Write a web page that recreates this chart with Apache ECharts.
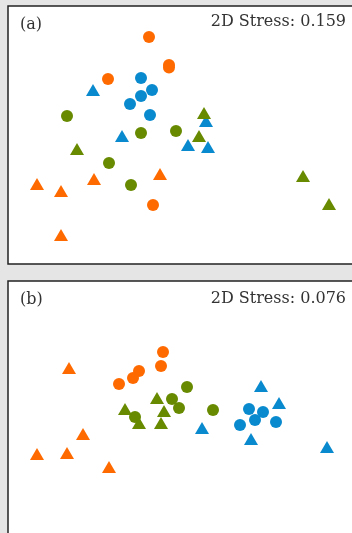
<!DOCTYPE html>
<html>
<head>
<meta charset="utf-8">
<style>
html,body{margin:0;padding:0;background:#e5e5e5;}
#chart{width:352px;height:533px;}
</style>
<script src="https://cdn.jsdelivr.net/npm/echarts@6/dist/echarts.min.js"></script>
</head>
<body>
<div id="chart"></div>
<script>
// Panel (a) NMDS coordinates [x, y]
const aOrangeCircle = [[-0.31,0.98],[-0.11,0.70],[-0.11,0.675],[-0.72,0.56],[-0.27,-0.70]];
const aOrangeTri    = [[-1.43,-0.49],[-1.19,-0.56],[-0.86,-0.44],[-0.20,-0.39],[-1.19,-1.00]];
const aBlueCircle   = [[-0.39,0.57],[-0.28,0.45],[-0.39,0.39],[-0.50,0.31],[-0.30,0.20]];
const aBlueTri      = [[-0.87,0.45],[-0.58,-0.01],[0.26,0.14],[0.08,-0.10],[0.28,-0.12]];
const aGreenCircle  = [[-1.13,0.19],[-0.39,0.02],[-0.04,0.04],[-0.71,-0.28],[-0.49,-0.50]];
const aGreenTri     = [[0.24,0.22],[0.19,-0.01],[-1.03,-0.14],[1.23,-0.41],[1.49,-0.69]];
// Panel (b)
const bOrangeCircle = [[-0.17,0.59],[-0.19,0.45],[-0.41,0.40],[-0.47,0.33],[-0.61,0.27]];
const bOrangeTri    = [[-1.11,0.43],[-0.97,-0.23],[-1.13,-0.42],[-1.43,-0.43],[-0.71,-0.56]];
const bGreenCircle  = [[0.07,0.24],[-0.08,0.12],[-0.01,0.03],[0.33,0.01],[-0.45,-0.06]];
const bGreenTri     = [[-0.23,0.13],[-0.55,0.02],[-0.16,0.00],[-0.41,-0.12],[-0.19,-0.12]];
const bBlueCircle   = [[0.69,0.02],[0.83,-0.01],[0.75,-0.09],[0.60,-0.14],[0.96,-0.11]];
const bBlueTri      = [[0.81,0.25],[0.99,0.08],[0.71,-0.28],[1.47,-0.36],[0.22,-0.17]];

const panelLabels = ['(a)', '(b)'];
const stressLabels = ['2D Stress: 0.159', '2D Stress: 0.076'];

const ORANGE = '#ff6a00', BLUE = '#0a8ace', GREEN = '#678a00';
const FONT = 'DejaVu Serif';

function mk(data, idx, color, sym) {
  return {
    type: 'scatter', xAxisIndex: idx, yAxisIndex: idx, data: data,
    symbol: sym, symbolSize: sym === 'circle' ? 12 : [14, 12],
    itemStyle: { color: color, opacity: 1 },
    silent: true
  };
}

const chart = echarts.init(document.getElementById('chart'), null, { renderer: 'canvas' });
const axisCommon = { show: false, scale: false };
chart.setOption({
  animation: false,
  backgroundColor: '#e5e5e5',
  grid: [
    { left: 8, top: 6, width: 374, height: 258, outerBoundsMode: 'none', containLabel: false, show: true, backgroundColor: '#ffffff', borderColor: '#222', borderWidth: 1.5 },
    { left: 8, top: 281, width: 374, height: 262, outerBoundsMode: 'none', containLabel: false, show: true, backgroundColor: '#ffffff', borderColor: '#222', borderWidth: 1.5 }
  ],
  xAxis: [
    Object.assign({ gridIndex: 0, type: 'value', min: -1.72, max: 2.02 }, axisCommon),
    Object.assign({ gridIndex: 1, type: 'value', min: -1.72, max: 2.02 }, axisCommon)
  ],
  yAxis: [
    Object.assign({ gridIndex: 0, type: 'value', min: -1.29, max: 1.29 }, axisCommon),
    Object.assign({ gridIndex: 1, type: 'value', min: -1.32, max: 1.30 }, axisCommon)
  ],
  series: [
    mk(aOrangeTri, 0, ORANGE, 'triangle'),
    mk(aBlueTri, 0, BLUE, 'triangle'),
    mk(aGreenTri, 0, GREEN, 'triangle'),
    mk(aOrangeCircle, 0, ORANGE, 'circle'),
    mk(aBlueCircle, 0, BLUE, 'circle'),
    mk(aGreenCircle, 0, GREEN, 'circle'),
    mk(bOrangeCircle, 1, ORANGE, 'circle'),
    mk(bBlueCircle, 1, BLUE, 'circle'),
    mk(bGreenCircle, 1, GREEN, 'circle'),
    mk(bOrangeTri, 1, ORANGE, 'triangle'),
    mk(bBlueTri, 1, BLUE, 'triangle'),
    mk(bGreenTri, 1, GREEN, 'triangle')
  ],
  graphic: [
    { type: 'text', left: 20, top: 17, style: { text: panelLabels[0], font: '16px "' + FONT + '"', fill: '#333' } },
    { type: 'text', right: 6, top: 14, style: { text: stressLabels[0], font: '16px "' + FONT + '"', fill: '#333' } },
    { type: 'text', left: 20, top: 292, style: { text: panelLabels[1], font: '16px "' + FONT + '"', fill: '#333' } },
    { type: 'text', right: 6, top: 291, style: { text: stressLabels[1], font: '16px "' + FONT + '"', fill: '#333' } }
  ]
});
</script>
</body>
</html>
